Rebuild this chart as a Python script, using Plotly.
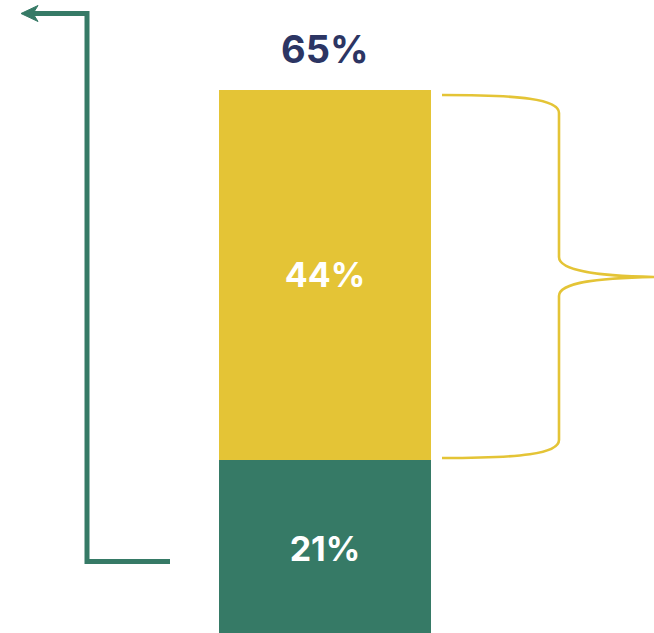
import plotly.graph_objects as go

# Data
categories = ["Total"]
segment_names = ["Green", "Yellow"]
green_values = [21]
yellow_values = [44]
green_labels = ["21%"]
yellow_labels = ["44%"]
total_values = [g + y for g, y in zip(green_values, yellow_values)]
total_labels = ["65%"]

GREEN = "#367A66"
YELLOW = "#E4C436"
NAVY = "#2C3563"
W, H = 654, 633

# axis geometry (pixel -> data helpers)
PX_PER_Y = 8.409
Y1 = 75.70
Y0 = Y1 - H / PX_PER_Y
PX_PER_X = 212.0
X0 = -325 / PX_PER_X
X1 = X0 + W / PX_PER_X


def X(px):
    return X0 + px / PX_PER_X


def Y(py):
    return Y1 - py / PX_PER_Y


FONT = "Inter, Liberation Sans, Arial, sans-serif"

fig = go.Figure()
fig.add_trace(go.Bar(
    x=[0], y=green_values, width=1, marker=dict(color=GREEN, line=dict(width=0)),
    text=["<b>" + t + "</b>" for t in green_labels], textposition="inside",
    insidetextanchor="middle",
    textfont=dict(color="white", size=34, family=FONT), constraintext="none",
    name=segment_names[0], hoverinfo="skip"))
fig.add_trace(go.Bar(
    x=[0], y=yellow_values, width=1, marker=dict(color=YELLOW, line=dict(width=0)),
    text=["<b>" + t + "</b>" for t in yellow_labels], textposition="inside",
    insidetextanchor="middle",
    textfont=dict(color="white", size=34, family=FONT), constraintext="none",
    name=segment_names[1], hoverinfo="skip"))

fig.add_annotation(x=0, y=total_values[0], text="<b>" + total_labels[0] + "</b>",
                   showarrow=False, yanchor="middle", yshift=41,
                   font=dict(color=NAVY, size=38, family=FONT))

shapes = []


def P(px, py):
    return f"{X(px):.5f},{Y(py):.5f}"


# green elbow arrow
arrow_path = f"M {P(170, 561.5)} L {P(87, 561.5)} L {P(87, 13.5)} L {P(32, 13.5)}"
shapes.append(dict(type="path", xref="x", yref="y", path=arrow_path,
                   line=dict(color=GREEN, width=5), fillcolor="rgba(0,0,0,0)"))
head_path = f"M {P(21, 13.5)} L {P(38, 5.5)} L {P(33, 13.5)} L {P(38, 21.5)} Z"
shapes.append(dict(type="path", xref="x", yref="y", path=head_path,
                   line=dict(color=GREEN, width=1), fillcolor=GREEN))

# yellow brace
brace = (f"M {P(442, 95)} C {P(520, 95)} {P(559, 99)} {P(559, 113)} "
         f"L {P(559, 257)} C {P(559, 271)} {P(600, 276)} {P(656, 277)} "
         f"M {P(656, 277)} C {P(600, 278)} {P(559, 282)} {P(559, 296)} "
         f"L {P(559, 440)} C {P(559, 454)} {P(520, 458)} {P(442, 458)}")
shapes.append(dict(type="path", xref="x", yref="y", path=brace,
                   line=dict(color=YELLOW, width=2.6), fillcolor="rgba(0,0,0,0)"))

fig.update_layout(
    barmode="stack", width=W, height=H,
    margin=dict(l=0, r=0, t=0, b=0),
    paper_bgcolor="white", plot_bgcolor="white",
    showlegend=False, shapes=shapes,
    xaxis=dict(range=[X0, X1], visible=False, fixedrange=True),
    yaxis=dict(range=[Y0, Y1], visible=False, fixedrange=True),
)
fig.write_html("out.html", config={"displayModeBar": False},
               post_script="document.body.style.margin='0';document.body.style.overflow='hidden';")
